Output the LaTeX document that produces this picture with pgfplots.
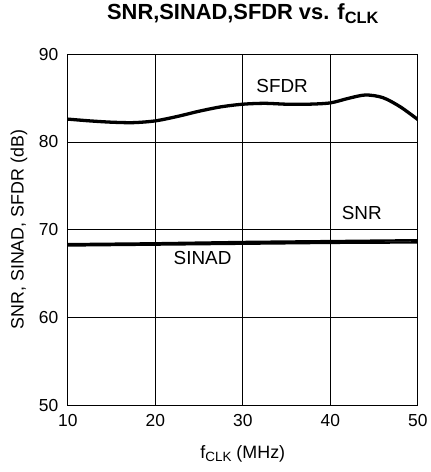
\documentclass[border=0pt]{standalone}
\usepackage{pgfplots}
\pgfplotsset{compat=1.18}
\usepackage{fontspec}
\setmainfont{Liberation Sans}
\newcommand{\sub}[1]{\raisebox{-0.35ex}{\scalebox{0.75}{#1}}}
\begin{document}
\begin{tikzpicture}
\begin{axis}[
  scale only axis,
  width=351bp, height=352bp,
  xmin=10, xmax=50, ymin=50, ymax=90,
  xtick={10,20,30,40,50}, ytick={50,60,70,80,90},
  grid=major,
  major grid style={black, line width=0.8bp},
  axis line style={black, line width=1.2bp},
  tick style={draw=none},
  /pgf/number format/assume math mode=true,
  ticklabel style={font=\fontsize{17.5}{20}\selectfont},
  xticklabel style={yshift=-6bp},
  yticklabel style={xshift=-6bp},
  label style={font=\fontsize{18}{20}\selectfont},
  xlabel={f\sub{CLK} (MHz)},
  ylabel={SNR, SINAD, SFDR (dB)},
  xlabel style={at={([yshift=-49bp]axis description cs:0.5,0)}, anchor=center},
  ylabel style={at={([xshift=-49bp]axis description cs:0,0.5)}, anchor=center},
  title={\textbf{SNR,SINAD,SFDR vs. f\sub{CLK}}},
  title style={font=\fontsize{22}{24}\selectfont, at={([yshift=35bp]axis description cs:0.5,1)}, anchor=center},
]
\addplot[black, line width=3.3bp, smooth] coordinates {
 (10,82.6) (12.5,82.4) (15,82.25) (17.5,82.2) (20,82.4) (22.5,82.9) (25,83.5)
 (27.5,84.0) (30,84.3) (32.5,84.4) (35,84.3) (37.5,84.3) (40,84.45) (42,84.95)
 (44,85.35) (46,85.05) (48,84.0) (50,82.55)
};
\addplot[black, line width=2.4bp] coordinates {
 (10,68.35) (20,68.45) (30,68.6) (40,68.7) (50,68.8)
};
\addplot[black, line width=2.4bp] coordinates {
 (10,68.2) (20,68.3) (30,68.4) (40,68.5) (50,68.55)
};
\node[font=\fontsize{19}{20}\selectfont] at (axis cs:34.5,86.4) {SFDR};
\node[font=\fontsize{19}{20}\selectfont] at (axis cs:43.6,71.9) {SNR};
\node[font=\fontsize{19}{20}\selectfont] at (axis cs:25.4,66.8) {SINAD};
\coordinate (sw) at (rel axis cs:0,0);
\coordinate (ne) at (rel axis cs:1,1);
\end{axis}
\path ([xshift=-68bp,yshift=-67bp]sw) rectangle ([xshift=12bp,yshift=53bp]ne);
\end{tikzpicture}
\end{document}
